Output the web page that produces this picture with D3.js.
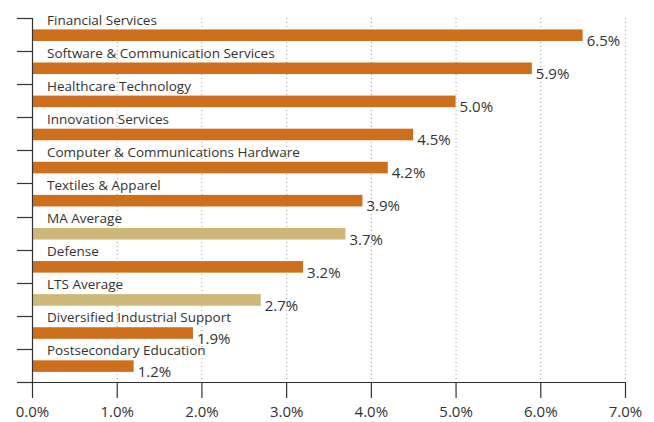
<!DOCTYPE html>
<html>
<head>
<meta charset="utf-8">
<script src="https://cdn.jsdelivr.net/npm/d3@7"></script>
<style>
  body { margin: 0; background: #fff; }
  text { font-family: "Open Sans", sans-serif; fill: #333; }
</style>
</head>
<body>
<div id="chart"></div>
<script>
var categories = ["Financial Services", "Software & Communication Services", "Healthcare Technology",
    "Innovation Services", "Computer & Communications Hardware", "Textiles & Apparel", "MA Average",
    "Defense", "LTS Average", "Diversified Industrial Support", "Postsecondary Education"];
var values = [6.5, 5.9, 5.0, 4.5, 4.2, 3.9, 3.7, 3.2, 2.7, 1.9, 1.2];
var averages = ["MA Average", "LTS Average"];
var xTicks = [0, 1, 2, 3, 4, 5, 6, 7];

var width = 654, height = 422;
var svg = d3.select("#chart").append("svg")
    .attr("width", width)
    .attr("height", height);

var x = d3.scaleLinear().domain([0, 7]).range([32, 625]);
var y = d3.scaleBand().domain(categories).range([18, 382]).padding(0);
var bw = y.bandwidth();

// dotted grid
svg.append("g").selectAll("line").data(xTicks.slice(1)).enter().append("line")
    .attr("x1", function(d) { return x(d) + 0.5; })
    .attr("x2", function(d) { return x(d) + 0.5; })
    .attr("y1", 18).attr("y2", 382)
    .attr("stroke", "#999")
    .attr("stroke-width", 1)
    .attr("stroke-dasharray", "1,3");

// bars
svg.append("g").selectAll("rect").data(categories).enter().append("rect")
    .attr("x", x(0))
    .attr("y", function(d) { return y(d) + bw * 0.345; })
    .attr("width", function(d, i) { return x(values[i]) - x(0); })
    .attr("height", bw * 0.35)
    .attr("fill", function(d) { return averages.indexOf(d) >= 0 ? "#cdb87a" : "#cd6f1c"; });

// category labels
svg.append("g").selectAll("text").data(categories).enter().append("text")
    .attr("x", 47)
    .attr("y", function(d) { return y(d) + 6.5; })
    .style("font-size", "13.5px")
    .text(function(d) { return d; });

// value labels
svg.append("g").selectAll("text").data(categories).enter().append("text")
    .attr("x", function(d, i) { return x(values[i]) + 4; })
    .attr("y", function(d) { return y(d) + bw * 0.695 + 5; })
    .style("font-size", "15px")
    .text(function(d, i) { return values[i].toFixed(1) + "%"; });

// left axis with ticks at band edges
var edges = categories.map(function(d) { return y(d); }).concat([382]);
var left = svg.append("g");
left.append("line")
    .attr("x1", 32.5).attr("x2", 32.5).attr("y1", 18).attr("y2", 382)
    .attr("stroke", "#333").attr("stroke-width", 1.2);
left.selectAll("line.tick").data(edges).enter().append("line")
    .attr("class", "tick")
    .attr("x1", 17).attr("x2", 32.5)
    .attr("y1", function(d) { return Math.round(d) + 0.5; })
    .attr("y2", function(d) { return Math.round(d) + 0.5; })
    .attr("stroke", "#333").attr("stroke-width", 1.2);

// bottom axis
var bottom = svg.append("g").attr("transform", "translate(0,382)")
    .call(d3.axisBottom(x).tickValues(xTicks).tickSize(16).tickPadding(8)
        .tickFormat(function(d) { return d.toFixed(1) + "%"; }));
bottom.select(".domain").remove();
bottom.selectAll(".tick line").attr("stroke", "#333").attr("stroke-width", 1.2);
bottom.selectAll(".tick text").style("font-size", "15px").style("font-family", "Open Sans, sans-serif").attr("fill", "#333");
svg.append("line")
    .attr("x1", 17).attr("x2", 625).attr("y1", 382.5).attr("y2", 382.5)
    .attr("stroke", "#333").attr("stroke-width", 1.2);
</script>
</body>
</html>
